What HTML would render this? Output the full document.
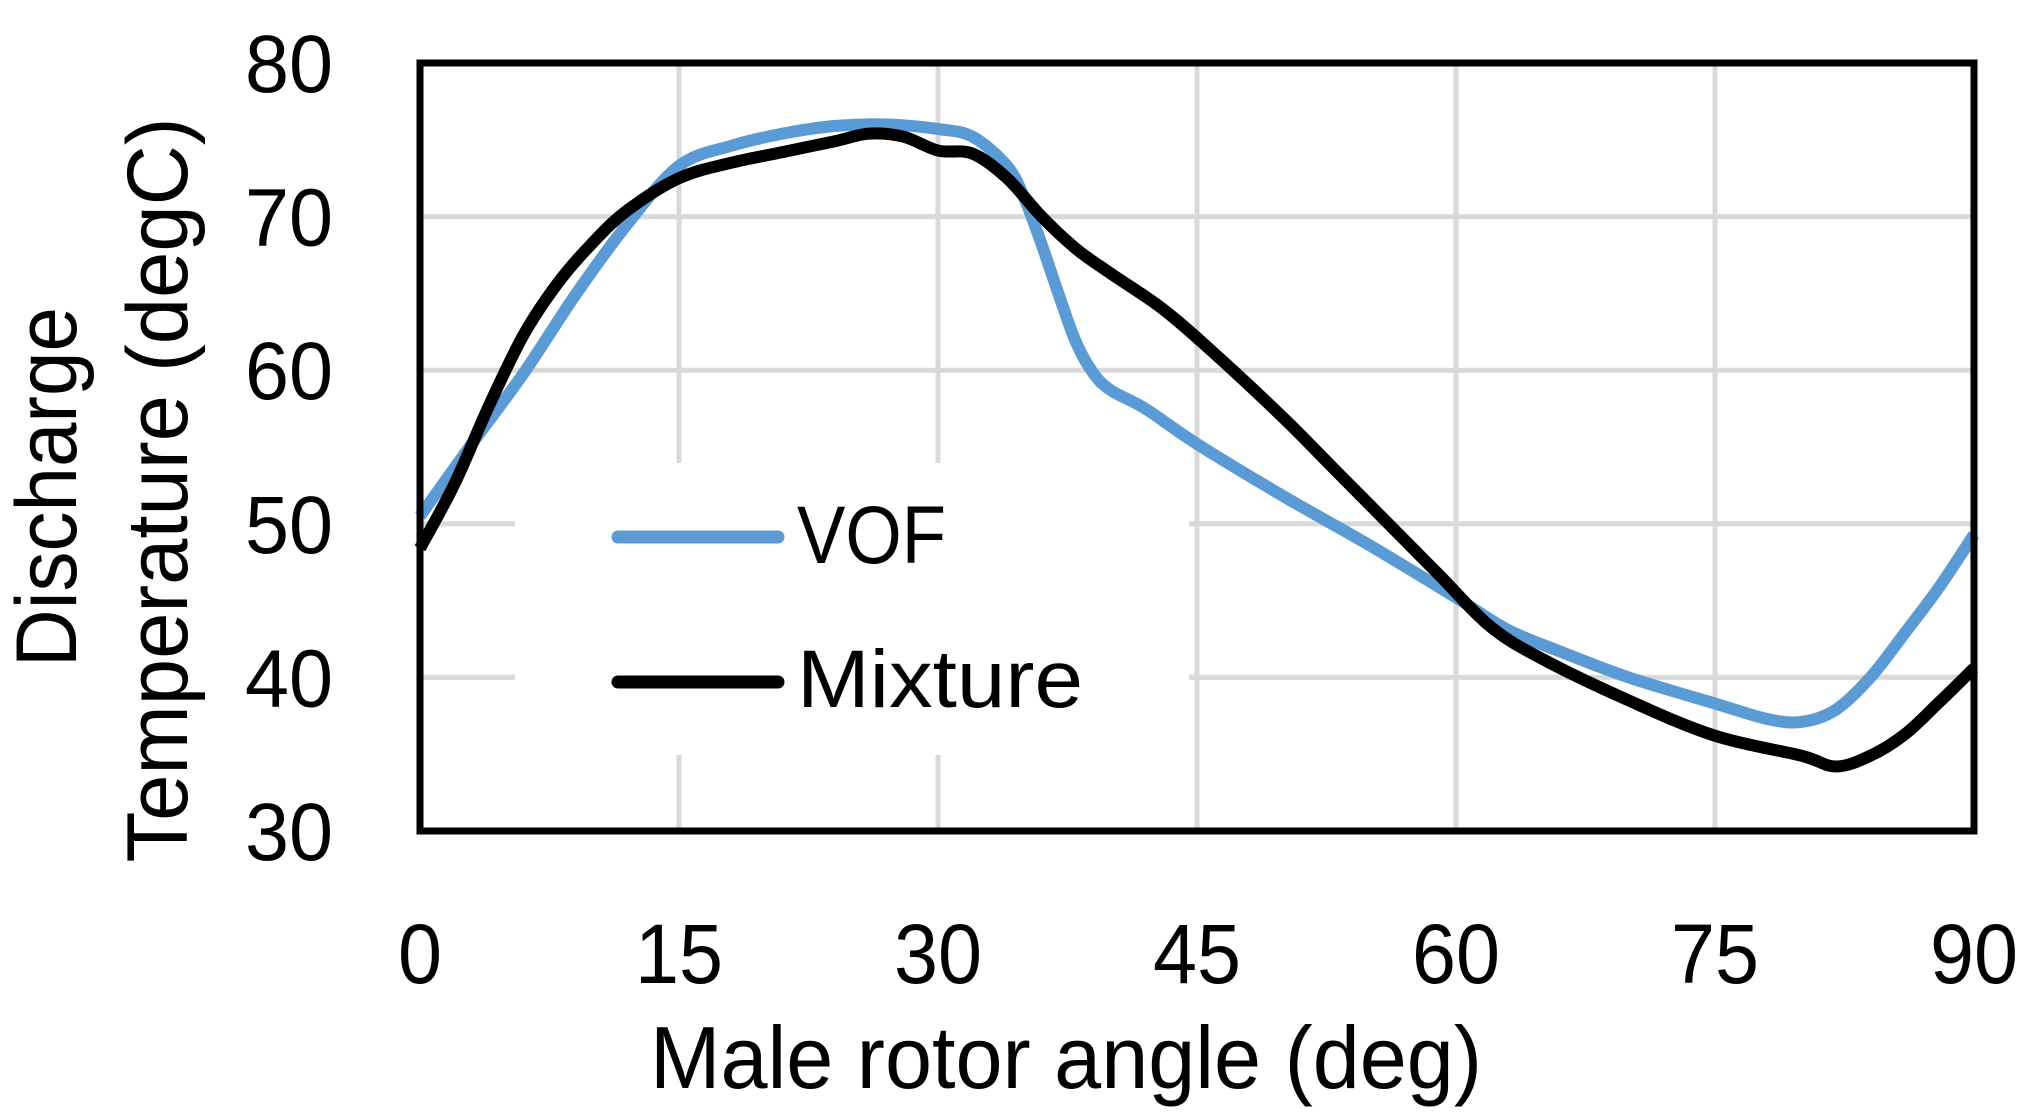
<!DOCTYPE html>
<html><head><meta charset="utf-8"><style>
html,body{margin:0;padding:0;background:#fff;}
svg{display:block;}
text{font-family:"Liberation Sans",sans-serif;fill:#000;}
</style></head><body>
<svg id="chart" width="2040" height="1115" viewBox="0 0 2040 1115">
<g id="grid"></g>
<rect x="515" y="463" width="674" height="292" fill="#fff"/>
<g id="series"></g>
<rect x="420" y="63" width="1554" height="768" fill="none" stroke="#000" stroke-width="7"/>
<g id="ticks"></g>
<text x="1066" y="1088" font-size="88" text-anchor="middle" textLength="832" lengthAdjust="spacingAndGlyphs">Male rotor angle (deg)</text>
<text transform="translate(76,487) rotate(-90)" font-size="86" text-anchor="middle" textLength="360" lengthAdjust="spacingAndGlyphs">Discharge</text>
<text transform="translate(187,490) rotate(-90)" font-size="86" text-anchor="middle" textLength="745" lengthAdjust="spacingAndGlyphs">Temperature (degC)</text>
<g>
<line x1="618" y1="537" x2="778" y2="537" stroke="#5b9bd5" stroke-width="13" stroke-linecap="round"/>
<text x="797" y="563" font-size="82" textLength="149" lengthAdjust="spacingAndGlyphs">VOF</text>
<line x1="618" y1="682" x2="778" y2="682" stroke="#000" stroke-width="13" stroke-linecap="round"/>
<text x="797" y="707" font-size="82" textLength="286" lengthAdjust="spacingAndGlyphs">Mixture</text>
</g>
</svg>
<script>
const xTicks=[0,15,30,45,60,75,90];
const yTicks=[30,40,50,60,70,80];
const vofX=[0,3,6,9,12,15,18,21,24,27,30,32,34,35,36,37,38,39,40,42,45,50,55,60,63,66,70,75,78,80,82,84,86,88,90];
const vofY=[50.5,55.2,59.8,64.9,69.5,73.3,74.6,75.4,75.9,76.0,75.7,75.2,73.3,71.2,68.2,64.9,61.8,59.8,58.7,57.5,55.2,51.8,48.6,45.2,43.1,41.7,40.0,38.3,37.3,37.1,37.9,40.0,42.9,45.9,49.3];
const mixX=[0,2,4,6,8,10,12,15,18,21,24,26,28,30,32,34,36,38,40,43,46,50,53,56,59,62,65,70,75,80,82,84,86,88,90];
const mixY=[48.4,52.6,57.7,62.3,65.7,68.3,70.4,72.5,73.5,74.2,74.9,75.4,75.2,74.3,74.1,72.5,70.0,67.9,66.3,64.0,61.1,56.9,53.5,50.1,46.7,43.3,41.2,38.5,36.2,34.9,34.2,34.9,36.3,38.4,40.6];
const L=420,R=1974,T=63,B=831;
const sx=v=>L+(v-0)/(90-0)*(R-L);
const sy=v=>B-(v-30)/(80-30)*(B-T);
const NS="http://www.w3.org/2000/svg";
const grid=document.getElementById('grid'),ticks=document.getElementById('ticks'),series=document.getElementById('series');
function mk(tag,attrs){const e=document.createElementNS(NS,tag);for(const k in attrs)e.setAttribute(k,attrs[k]);return e;}
xTicks.forEach(v=>{
 const g=mk('line',{x1:sx(v),x2:sx(v),y1:T,y2:B,stroke:'#d9d9d9','stroke-width':5});
 
 
 grid.appendChild(g);
 const t=mk('text',{x:sx(v),y:983,'font-size':84,'text-anchor':'middle',textLength:String(v).length*44,lengthAdjust:'spacingAndGlyphs'});
 
 
 t.textContent=v;ticks.appendChild(t);
});
yTicks.forEach(v=>{
 const g=mk('line',{x1:L,x2:R,y1:sy(v),y2:sy(v),stroke:'#d9d9d9','stroke-width':5});
 
 
 grid.appendChild(g);
 const t=mk('text',{x:333,y:sy(v)+29,'font-size':82,'text-anchor':'end',textLength:88,lengthAdjust:'spacingAndGlyphs'});
 
 
 t.textContent=v;ticks.appendChild(t);
});
function pathOf(xs,ys){
 const p=xs.map((x,i)=>[sx(x),sy(ys[i])]);
 let d='M'+p[0][0]+','+p[0][1];
 for(let i=0;i<p.length-1;i++){
  const p0=p[Math.max(0,i-1)],p1=p[i],p2=p[i+1],p3=p[Math.min(p.length-1,i+2)];
  const c1=[p1[0]+(p2[0]-p0[0])/6,p1[1]+(p2[1]-p0[1])/6];
  const c2=[p2[0]-(p3[0]-p1[0])/6,p2[1]-(p3[1]-p1[1])/6];
  d+=' C'+c1[0]+','+c1[1]+' '+c2[0]+','+c2[1]+' '+p2[0]+','+p2[1];
 }
 return d;
}
const vof=mk('path',{d:pathOf(vofX,vofY),fill:'none',stroke:'#5b9bd5','stroke-width':12,'stroke-linejoin':'round'});


series.appendChild(vof);
const mix=mk('path',{d:pathOf(mixX,mixY),fill:'none',stroke:'#000','stroke-width':12,'stroke-linejoin':'round'});


series.appendChild(mix);
</script>
</body></html>
